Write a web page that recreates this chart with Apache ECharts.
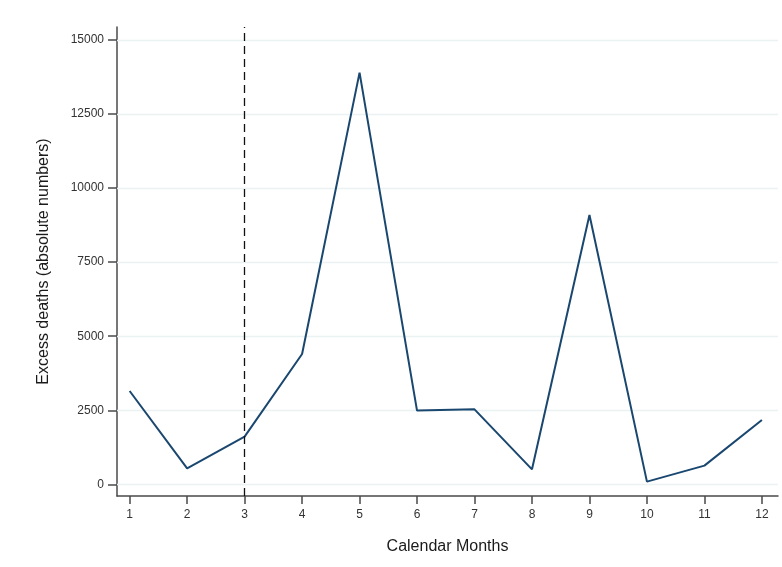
<!DOCTYPE html>
<html>
<head>
<meta charset="utf-8">
<script src="https://cdn.jsdelivr.net/npm/echarts@6/dist/echarts.min.js"></script>
<style>
  html, body { margin: 0; padding: 0; background: #fff; }
  #chart { width: 782px; height: 567px; }
</style>
</head>
<body>
<div id="chart"></div>
<script>
// Monthly excess deaths
const months = [1, 2, 3, 4, 5, 6, 7, 8, 9, 10, 11, 12];
const excessDeaths = [3150, 540, 1610, 4400, 13900, 2490, 2530, 505, 9090, 90, 630, 2170];
const yTicks = [0, 2500, 5000, 7500, 10000, 12500, 15000];
const markerMonth = 3;

const chart = echarts.init(document.getElementById('chart'), null, { renderer: 'canvas' });

const fontFamily = 'Liberation Sans, Arial, sans-serif';
const axisColor = '#4a4a4a';

chart.setOption({
  animation: false,
  backgroundColor: '#ffffff',
  grid: { left: 117, right: 4, top: 27, bottom: 71 },
  xAxis: {
    type: 'value',
    min: 0.78,
    max: 12.28,
    name: 'Calendar Months',
    nameLocation: 'middle',
    nameGap: 43,
    nameTextStyle: { fontFamily, fontSize: 16, color: '#1a1a1a' },
    axisLine: { onZero: false, lineStyle: { color: axisColor, width: 1.5 } },
    axisTick: { customValues: months, length: 8, lineStyle: { color: axisColor, width: 1.5 } },
    axisLabel: { customValues: months, fontFamily, fontSize: 12, color: '#333', margin: 13 },
    splitLine: { show: false }
  },
  yAxis: {
    type: 'value',
    min: -395,
    max: 15440,
    name: 'Excess deaths (absolute numbers)',
    nameLocation: 'middle',
    nameGap: 65,
    nameTextStyle: { fontFamily, fontSize: 16, color: '#1a1a1a' },
    axisLine: { show: true, lineStyle: { color: axisColor, width: 1.5 } },
    axisTick: { show: true, customValues: yTicks, length: 9, lineStyle: { color: axisColor, width: 1.5 } },
    axisLabel: { customValues: yTicks, formatter: v => String(v), fontFamily, fontSize: 12, color: '#333', margin: 13 },
    splitLine: { show: false }
  },
  series: [
    {
      // horizontal reference lines at each labelled value, behind the data
      type: 'line',
      data: [],
      z: 1,
      markLine: {
        z: 1,
        silent: true,
        symbol: 'none',
        label: { show: false },
        lineStyle: { color: '#eaf2f3', width: 1.3, type: 'solid' },
        data: yTicks.map(v => ({ yAxis: v }))
      }
    },
    {
      type: 'line',
      data: months.map((m, i) => [m, excessDeaths[i]]),
      showSymbol: false,
      lineStyle: { color: '#1a476f', width: 2 },
      z: 3,
      markLine: {
        silent: true,
        symbol: 'none',
        label: { show: false },
        lineStyle: { color: '#111', width: 1.3, type: [8, 5] },
        data: [{ xAxis: markerMonth }]
      }
    }
  ]
});
</script>
</body>
</html>
